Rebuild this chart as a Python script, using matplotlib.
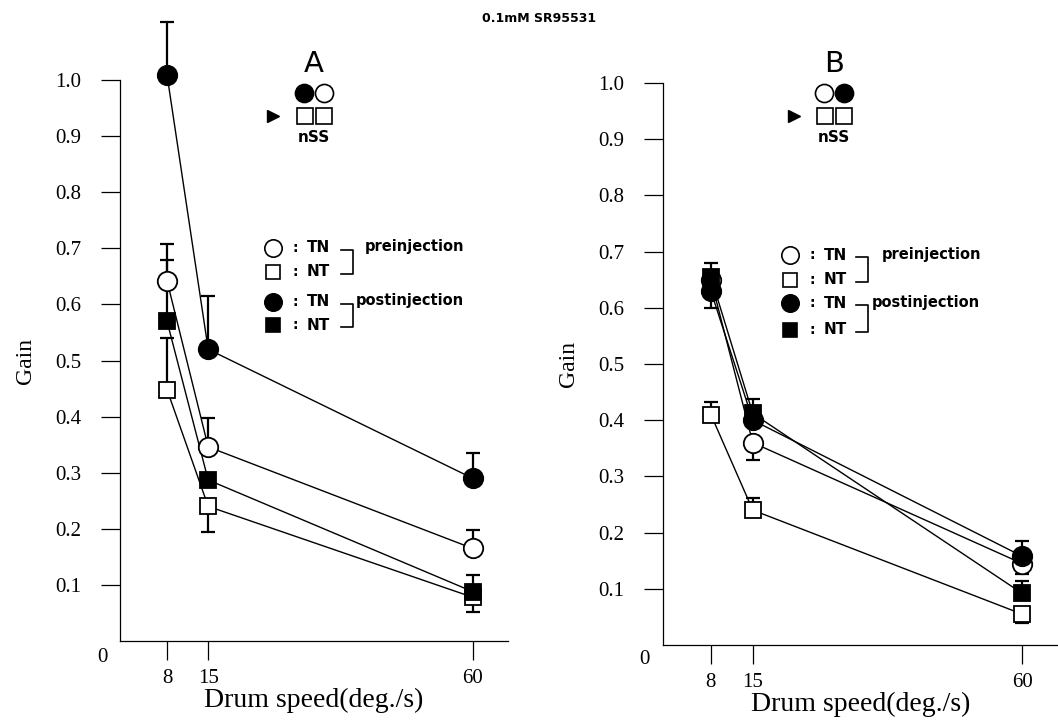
import matplotlib
matplotlib.use("Agg")
import matplotlib.pyplot as plt
import numpy as np

# drum speeds (deg/s)
speeds = [8, 15, 60]

# panel A
a_pre_tn = [0.642, 0.346, 0.165]
a_pre_tn_up = [0.066, 0.052, 0.032]
a_pre_nt = [0.448, 0.240, 0.078]
a_pre_nt_up = [0.092, 0.0, 0.0]
a_pre_nt_dn = [0.0, 0.045, 0.026]
a_post_tn = [1.009, 0.520, 0.290]
a_post_tn_up = [0.095, 0.095, 0.045]
a_post_nt = [0.570, 0.287, 0.088]
a_post_nt_up = [0.110, 0.0, 0.030]

# panel B
b_pre_tn = [0.650, 0.360, 0.145]
b_pre_tn_dn = [0.0, 0.030, 0.018]
b_pre_nt = [0.410, 0.240, 0.055]
b_pre_nt_up = [0.022, 0.022, 0.0]
b_pre_nt_dn = [0.0, 0.0, 0.015]
b_post_tn = [0.630, 0.400, 0.158]
b_post_tn_up = [0.0, 0.0, 0.027]
b_post_tn_dn = [0.030, 0.0, 0.0]
b_post_nt = [0.655, 0.412, 0.092]
b_post_nt_up = [0.025, 0.025, 0.022]

yticks = [0.1, 0.2, 0.3, 0.4, 0.5, 0.6, 0.7, 0.8, 0.9, 1.0]
ytick_labels = ["0.1", "0.2", "0.3", "0.4", "0.5", "0.6", "0.7", "0.8", "0.9", "1.0"]

W, H = 1058, 721
fig = plt.figure(figsize=(W / 100, H / 100), dpi=100)
serif = "Liberation Serif"


def pix_axes(left, right, bottom, top):
    return fig.add_axes([left / W, 1 - bottom / H, (right - left) / W, (bottom - top) / H])


def series(ax, y, up, dn, marker, filled, ms):
    up = np.zeros(3) if up is None else np.array(up)
    dn = np.zeros(3) if dn is None else np.array(dn)
    ax.errorbar(speeds, y, yerr=[dn, up], fmt="none", ecolor="black", elinewidth=1.6,
                capsize=5, capthick=1.6, clip_on=False, zorder=2)
    ax.plot(speeds, y, color="black", lw=1.0, marker=marker, ms=ms,
            mfc="black" if filled else "white", mec="black", mew=1.3,
            clip_on=False, zorder=3)


def style(ax):
    ax.set_xlim(0, 66)
    ax.set_ylim(0, 1.0)
    for s in ["top", "right"]:
        ax.spines[s].set_visible(False)
    ax.spines["left"].set_linewidth(0.9)
    ax.spines["bottom"].set_linewidth(0.9)
    ax.set_yticks(yticks)
    ax.set_yticklabels(ytick_labels, fontfamily=serif, fontsize=15)
    ax.set_xticks(speeds)
    ax.set_xticklabels([str(s) for s in speeds], fontfamily=serif, fontsize=15)
    ax.tick_params(axis="y", direction="out", length=14, width=0.9, pad=14)
    ax.tick_params(axis="x", direction="out", length=14, width=0.9, pad=6)
    ax.set_xlabel("Drum speed(deg./s)", fontfamily=serif, fontsize=20, labelpad=0)
    ax.set_ylabel("Gain", fontfamily=serif, fontsize=17, labelpad=14)


axA = pix_axes(120, 508, 641, 80)
series(axA, a_pre_nt, a_pre_nt_up, a_pre_nt_dn, "s", False, 11)
series(axA, a_post_nt, a_post_nt_up, None, "s", True, 11)
series(axA, a_pre_tn, a_pre_tn_up, None, "o", False, 14)
series(axA, a_post_tn, a_post_tn_up, None, "o", True, 14)
style(axA)

axB = pix_axes(663, 1058, 645, 83)
series(axB, b_pre_nt, b_pre_nt_up, b_pre_nt_dn, "s", False, 11)
series(axB, b_pre_tn, None, b_pre_tn_dn, "o", False, 14)
series(axB, b_post_tn, b_post_tn_up, b_post_tn_dn, "o", True, 14)
series(axB, b_post_nt, b_post_nt_up, None, "s", True, 11)
style(axB)

# overlay in pixel coordinates for annotations
ov = fig.add_axes([0, 0, 1, 1], zorder=5)
ov.set_xlim(0, W)
ov.set_ylim(H, 0)
ov.axis("off")
ov.patch.set_alpha(0)

ov.text(102, 657, "0", family=serif, fontsize=15, ha="center", va="center")
ov.text(644, 660, "0", family=serif, fontsize=15, ha="center", va="center")

ov.text(539, 18, "0.1mM SR95531", fontsize=9, fontweight="bold", ha="center", va="center")


def panel_tag(x, letter, first_filled, arrow_x):
    ov.text(x, 64, letter, fontsize=21, ha="center", va="center")
    fills = ["black", "white"] if first_filled else ["white", "black"]
    ov.plot([x - 10], [93], "o", ms=13, mfc=fills[0], mec="black", mew=1.2)
    ov.plot([x + 10], [93], "o", ms=13, mfc=fills[1], mec="black", mew=1.2)
    ov.plot([x - 9, x + 10], [116, 116], "s", ms=12, mfc="white", mec="black", mew=1.2, ls="none")
    ov.plot([arrow_x], [116], ">", ms=8, color="black")
    ov.text(x, 138, "nSS", fontsize=11, fontweight="bold", ha="center", va="center")


panel_tag(314, "A", True, 273)
panel_tag(834, "B", False, 794)


def legend(x0, ys, brx, pre_x, post_x):
    marks = [("o", "white"), ("s", "white"), ("o", "black"), ("s", "black")]
    labels = ["TN", "NT", "TN", "NT"]
    for (m, fc), lab, y in zip(marks, labels, ys):
        ov.plot([x0], [y], m, ms=12.5 if m == "o" else 10.5, mfc=fc, mec="black", mew=1.2)
        ov.text(x0 + 22, y, ":", fontsize=10, fontweight="bold", ha="center", va="center")
        ov.text(x0 + 34, y, lab, fontsize=11, fontweight="bold", ha="left", va="center")
    for i, x_txt, word in [(0, pre_x, "preinjection"), (2, post_x, "postinjection")]:
        ya, yb = ys[i] + 2, ys[i + 1] + 2
        ov.plot([brx - 12, brx, brx, brx - 12], [ya, ya, yb, yb], color="black", lw=1.2)
        ov.text(x_txt, ys[i] - 1, word, fontsize=10.5, fontweight="bold", ha="left", va="center")


legend(273, [248, 272, 302, 325], 353, 365, 356)
legend(790, [255, 280, 303, 330], 868, 882, 872)

fig.savefig("out.png", dpi=100)
